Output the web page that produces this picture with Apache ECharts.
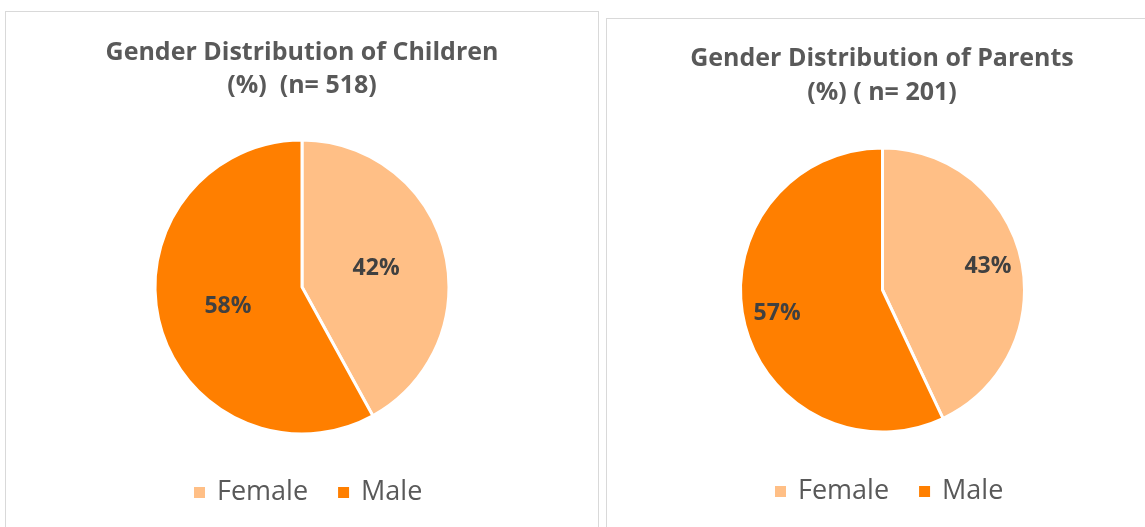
<!DOCTYPE html>
<html>
<head>
<meta charset="utf-8">
<script src="https://cdn.jsdelivr.net/npm/echarts@6/dist/echarts.min.js"></script>
<style>
  html, body { margin: 0; padding: 0; background: #fff; width: 1145px; height: 527px; overflow: hidden; }
  .panel { position: absolute; border: 1px solid #d9d9d9; background: #fff; }
  #c1 { left: 5px; top: 11px; width: 592px; height: 530px; }
  #c2 { left: 606px; top: 18px; width: 560px; height: 530px; }
</style>
</head>
<body>
<div id="c1" class="panel"></div>
<div id="c2" class="panel"></div>
<script>
const categories = ['Female', 'Male'];
const childrenValues = [42, 58];
const parentsValues = [43, 57];
const childrenTitle = ['Gender Distribution of Children', '(%)  (n= 518)'];
const parentsTitle = ['Gender Distribution of Parents', '(%) ( n= 201)'];
const colors = ['#FFBF86', '#FF7F00'];

const FONT = '"Open Sans", sans-serif';

function makeData(values) {
  return categories.map((c, i) => ({ name: c, value: values[i] }));
}

function buildOption(titleLines, values, center, radius, labelRing, titleTops, legendPos, titleCenterX) {
  const series = [];
  const useRing = labelRing > 0;
  const labelStyle = {
    show: true, position: 'inside', formatter: '{c}%', opacity: 1,
    color: '#404040', fontFamily: FONT, fontWeight: 'bold', fontSize: 23
  };
  series.push({
    type: 'pie',
    center: center,
    radius: [0, radius],
    startAngle: 90,
    clockwise: true,
    silent: true,
    data: makeData(values),
    itemStyle: { borderColor: '#ffffff', borderWidth: 3 },
    label: useRing ? { show: false } : labelStyle,
    labelLine: { show: false }
  });
  if (useRing) {
    series.push({
      type: 'pie',
      center: center,
      radius: [labelRing, radius],
      startAngle: 90,
      clockwise: true,
      silent: true,
      data: makeData(values),
      itemStyle: { color: 'rgba(0,0,0,0)', borderWidth: 0 },
      label: labelStyle,
      labelLine: { show: false }
    });
  }
  return {
    animation: false,
    color: colors,
    title: titleLines.map((t, i) => ({
      text: t,
      left: titleCenterX,
      top: titleTops[i],
      textAlign: 'center',
      padding: 0,
      textStyle: { color: '#595959', fontFamily: FONT, fontWeight: 'bold', fontSize: 25, lineHeight: 30 }
    })),
    legend: {
      data: categories,
      top: legendPos[1],
      left: legendPos[0],
      padding: 0,
      itemWidth: 13,
      itemHeight: 13,
      itemGap: 28,
      icon: 'rect',
      textStyle: { color: '#595959', fontFamily: FONT, fontSize: 27, padding: [0, 0, 0, 6] }
    },
    series: series
  };
}

const chart1 = echarts.init(document.getElementById('c1'));
chart1.setOption(buildOption(childrenTitle, childrenValues, [296, 275], 147, 0, [26, 59], [186, 467], 296));
const chart2 = echarts.init(document.getElementById('c2'));
chart2.setOption(buildOption(parentsTitle, parentsValues, [275.5, 271], 142, 68, [25, 59], [166, 459], 275));
</script>
</body>
</html>
